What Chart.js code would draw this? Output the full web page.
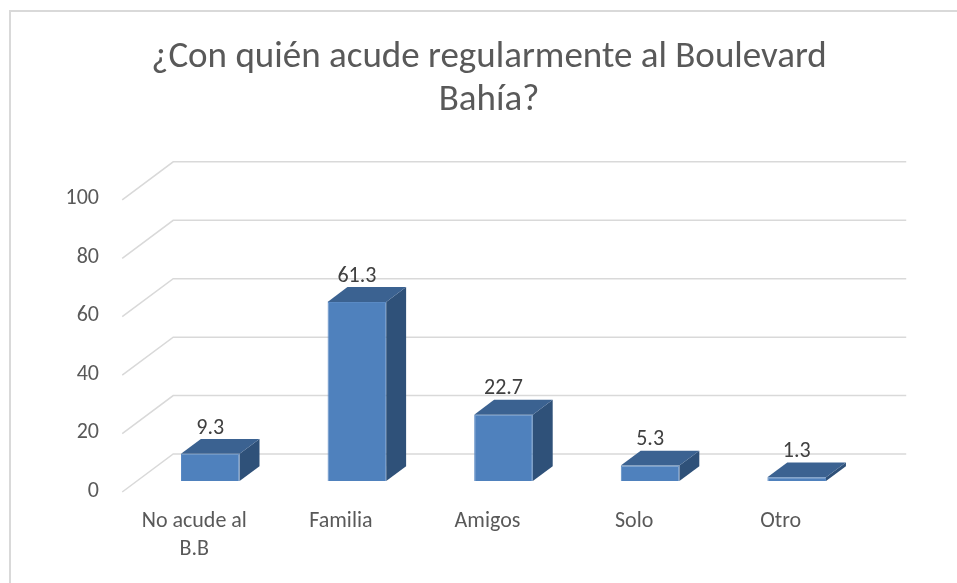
<!DOCTYPE html>
<html>
<head>
<meta charset="utf-8">
<script src="https://cdn.jsdelivr.net/npm/chart.js@4"></script>
<style>
  html, body { margin: 0; padding: 0; background: #fff; }
  #wrap { width: 957px; height: 583px; position: relative; }
</style>
</head>
<body>
<div id="wrap"><canvas id="myChart"></canvas></div>
<script>
const categories = [['No acude al', 'B.B'], 'Familia', 'Amigos', 'Solo', 'Otro']
const values = [9.3, 61.3, 22.7, 5.3, 1.3]
const yTicks = [0, 20, 40, 60, 80, 100]
const titleLines = ['¿Con quién acude regularmente al Boulevard', 'Bahía?']

const fontFam = 'Carlito, Lato, "Liberation Sans", sans-serif'
// depth of the 3D box (bar plane -> back wall)
const DX = 51, DY = -38, barPlane = 0.29, barDepth = 0.39

const frame = {
    id: 'frame',
    beforeDraw(chart) {
        const c = chart.ctx
        c.save()
        c.fillStyle = '#fff'
        c.fillRect(0, 0, chart.width, chart.height)
        c.strokeStyle = '#d9d9d9'
        c.lineWidth = 2
        c.strokeRect(10, 11, chart.width + 20, chart.height + 20)
        c.restore()
    }
}

const walls = {
    id: 'walls',
    beforeDatasetsDraw(chart) {
        const c = chart.ctx
        const y = chart.scales.y
        const a = chart.chartArea
        c.save()
        c.strokeStyle = '#d9d9d9'
        c.lineWidth = 1.5
        yTicks.forEach(v => {
            const py = y.getPixelForValue(v)
            const fx = a.left - DX * barPlane, fy = py - DY * barPlane
            const bx = a.left + DX * (1 - barPlane), by = py + DY * (1 - barPlane)
            c.beginPath()
            c.moveTo(fx, fy)
            c.lineTo(bx, by)
            c.lineTo(a.right + DX * (1 - barPlane), by)
            c.stroke()
        })
        c.restore()
    }
}

const box3d = {
    id: 'box3d',
    afterDatasetsDraw(chart) {
        const c = chart.ctx
        const meta = chart.getDatasetMeta(0)
        const ox = DX * barDepth, oy = DY * barDepth
        c.save()
        meta.data.forEach((bar, i) => {
            const l = bar.x - bar.width / 2, r = bar.x + bar.width / 2
            const t = bar.y, b = bar.base
            c.fillStyle = '#2f5179'
            c.beginPath()
            c.moveTo(r, t); c.lineTo(r + ox, t + oy); c.lineTo(r + ox, b + oy); c.lineTo(r, b)
            c.closePath(); c.fill()
            c.fillStyle = '#3b6291'
            c.beginPath()
            c.moveTo(l, t); c.lineTo(l + ox, t + oy); c.lineTo(r + ox, t + oy); c.lineTo(r, t)
            c.closePath(); c.fill()
            c.fillStyle = '#404040'
            c.font = '22px ' + fontFam
            c.textAlign = 'center'
            c.textBaseline = 'middle'
            c.fillText(values[i].toFixed(1), bar.x, t + oy - 11)
        })
        c.restore()
    }
}

const ctx = document.getElementById('myChart').getContext('2d')
const myChart = new Chart(ctx, {
    type: 'bar',
    data: {
        labels: categories,
        datasets: [{
            data: values,
            backgroundColor: '#4f81bd',
            borderColor: '#5a8ac4',
            borderWidth: 1,
            barPercentage: 0.4,
            categoryPercentage: 1
        }]
    },
    options: {
        responsive: true,
        maintainAspectRatio: false,
        animation: false,
        layout: { padding: { left: 21, right: 0, top: 0, bottom: 0 } },
        plugins: {
            legend: { display: false },
            tooltip: { enabled: false },
            title: {
                display: true,
                text: titleLines,
                color: '#595959',
                font: { family: fontFam, size: 37, weight: 'normal', lineHeight: 1.16 },
                padding: { top: 36, bottom: 67 }
            }
        },
        scales: {
            x: {
                grid: { display: false, drawTicks: false },
                border: { display: false },
                ticks: {
                    color: '#595959',
                    font: { family: fontFam, size: 22, lineHeight: 1.27 },
                    padding: 27,
                    labelOffset: -16,
                    maxRotation: 0,
                    autoSkip: false
                },
                afterFit(s) { s.height = 102 }
            },
            y: {
                min: 0,
                max: 100,
                grid: { display: false, drawTicks: false },
                border: { display: false },
                ticks: {
                    stepSize: 20,
                    color: '#595959',
                    font: { family: fontFam, size: 22 },
                    padding: 38,
                    labelOffset: 10
                },
                afterFit(s) { s.width = 116 }
            },
            y2: {
                position: 'right',
                min: 0,
                max: 100,
                grid: { display: false, drawTicks: false },
                border: { display: false },
                ticks: { display: false },
                afterFit(s) { s.width = 87 }
            }
        }
    },
    plugins: [frame, walls, box3d]
})
</script>
</body>
</html>
